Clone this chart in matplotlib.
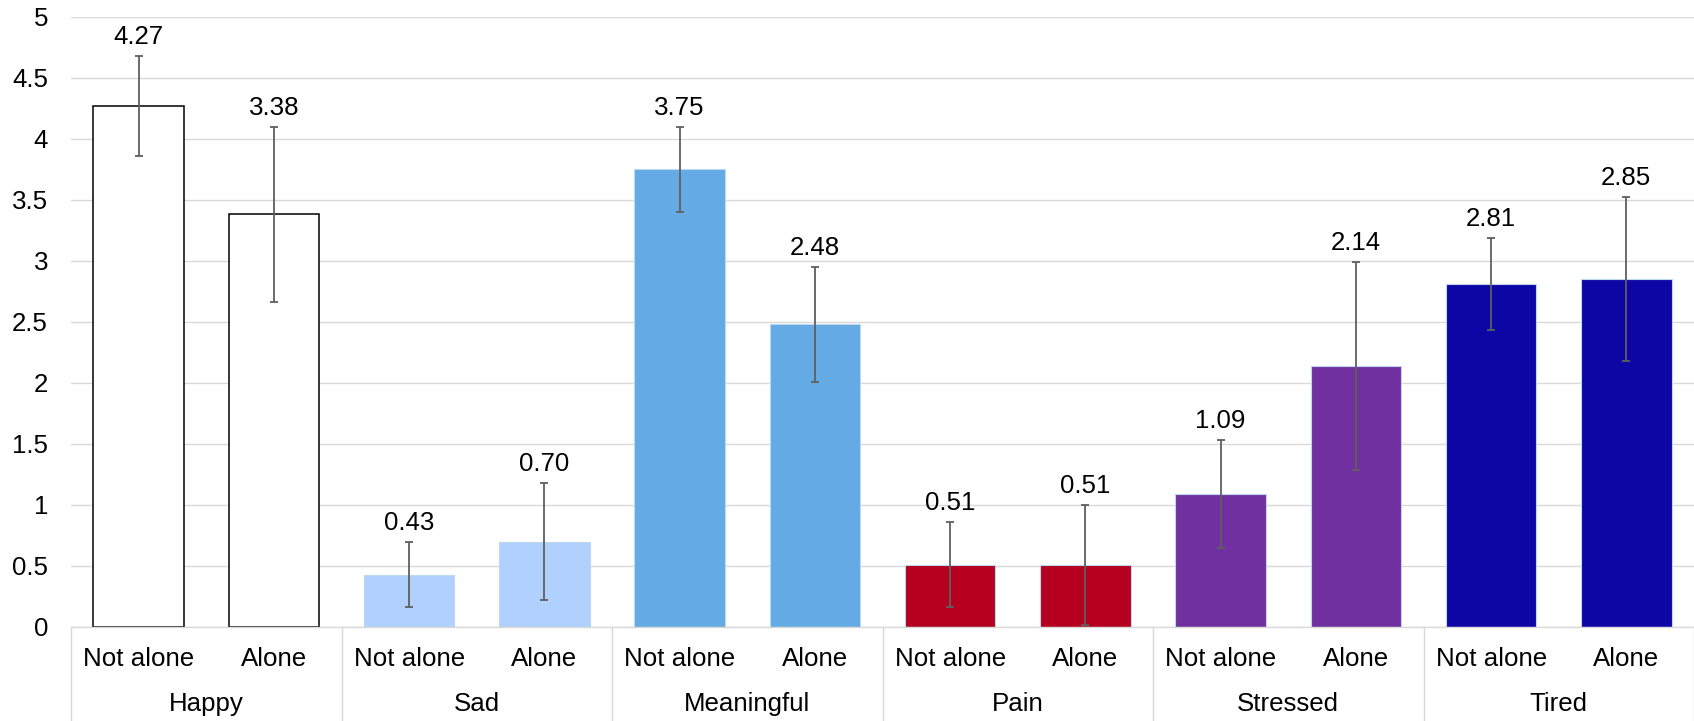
import numpy as np
import matplotlib
matplotlib.use("Agg")
import matplotlib.pyplot as plt

plt.rcParams['font.family'] = ['Liberation Sans', 'DejaVu Sans']

groups = ['Happy', 'Sad', 'Meaningful', 'Pain', 'Stressed', 'Tired']
conditions = ['Not alone', 'Alone']
means = [4.27, 3.38, 0.43, 0.70, 3.75, 2.48, 0.51, 0.51, 1.09, 2.14, 2.81, 2.85]
errors = [0.41, 0.72, 0.27, 0.48, 0.35, 0.47, 0.35, 0.49, 0.44, 0.85, 0.38, 0.67]
group_colors = ['#FFFFFF', '#B0D1FE', '#64AAE5', '#B5001F', '#7030A0', '#0D06A5']

grid_col = '#D9D9D9'
fs = 18.6

fig = plt.figure(figsize=(16.94, 7.21), dpi=100)
ax = fig.add_axes([71/1694, 1 - 627/721, 1 - 71/1694, (627 - 16.7)/721])

x = np.arange(len(means))
colors = [group_colors[i // 2] for i in x]
edges = ['black' if i < 2 else '#BDD7EE' for i in x]
lws = [1.1 if i < 2 else 0.8 for i in x]

ax.bar(x, means, width=0.67, color=colors, edgecolor=edges, linewidth=lws, zorder=2)
ax.errorbar(x, means, yerr=errors, fmt='none', ecolor='#5F5F5F', elinewidth=1.3,
            capsize=2.6, capthick=1.3, zorder=3)

for xi, m, e in zip(x, means, errors):
    ax.annotate(f'{m:.2f}', (xi, m + e), xytext=(0, 8.6), textcoords='offset points',
                ha='center', va='baseline', fontsize=fs, color='black')

ax.set_xlim(-0.5, len(means) - 0.5)
ax.set_ylim(0, 5)
ax.set_yticks(np.arange(0, 5.01, 0.5))
ax.set_yticklabels(['0', '0.5', '1', '1.5', '2', '2.5', '3', '3.5', '4', '4.5', '5'])
ax.yaxis.grid(True, color=grid_col, linewidth=1.0, zorder=0)
ax.set_axisbelow(True)
ax.tick_params(axis='y', length=0, pad=16.5, labelsize=fs)
for s in ['top', 'right', 'left']:
    ax.spines[s].set_visible(False)
ax.spines['bottom'].set_color(grid_col)
ax.spines['bottom'].set_linewidth(1.0)
ax.set_xticks([])

h = 627 - 16.7
tr = ax.get_xaxis_transform()
for xi in x:
    ax.text(xi, -39 / h, conditions[xi % 2], transform=tr, ha='center', va='baseline', fontsize=fs)
for gi, g in enumerate(groups):
    ax.text(2 * gi + 0.5, -83.7 / h, g, transform=tr, ha='center', va='baseline', fontsize=fs)
for b in range(len(groups) + 1):
    ax.plot([2 * b - 0.5, 2 * b - 0.5], [0, -0.2], transform=tr, color=grid_col,
            linewidth=1.0, clip_on=False)

fig.savefig('out.png', dpi=100)
